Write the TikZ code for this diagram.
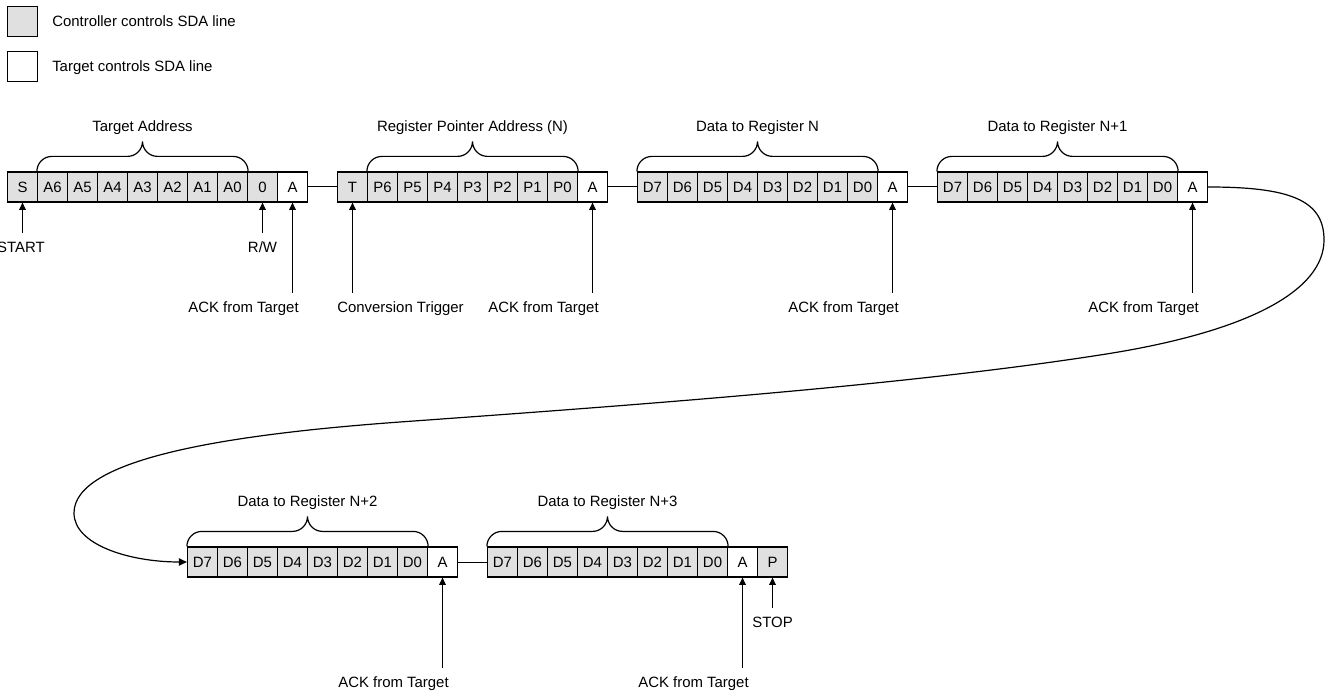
\documentclass[tikz,border=0pt]{standalone}
\usepackage{fontspec}
\setmainfont{Liberation Sans}
\usetikzlibrary{calc,arrows.meta}
\definecolor{ctrlgray}{RGB}{224,224,224}
\newcommand\sdabrace[4]{%
  \draw[bracestyle] (#1) .. controls +(0,-8.3) and +(-8.3,0) .. ($(#1)+(15,-15)$)
    -- ($(#1)!0.5!(#2)+(-15,-15)$) .. controls +(8.3,0) and +(0,8.3) .. ($(#1)!0.5!(#2)+(0,-30)$)
    .. controls +(0,8.3) and +(-8.3,0) .. ($(#1)!0.5!(#2)+(15,-15)$)
    -- ($(#2)+(-15,-15)$) .. controls +(8.3,0) and +(0,-8.3) .. (#2);
  \node[lbl] (#4) at ($(#1)!0.5!(#2)+(0,-40)$) {#3};
}
\begin{document}
\begin{tikzpicture}[x=0.75pt,y=-0.75pt,
  bitbox/.style={draw=black,line width=0.9pt,minimum width=22.5pt,minimum height=22.5pt,inner sep=0pt,text height=8pt,text depth=0pt,font=\fontsize{11.2}{13}\selectfont},
  lbl/.style={font=\fontsize{11.2}{13}\selectfont,inner sep=0pt,anchor=base},
  arr/.style={line width=0.75pt,-{Triangle[length=5.5pt,width=5pt]}},
  link/.style={line width=0.75pt},
  curvestyle/.style={line width=0.9pt,-{Triangle[length=6pt,width=5.5pt]}},
  bracestyle/.style={line width=0.9pt}]
\useasboundingbox (0,0) rectangle (1326,691);

% legend
\node[bitbox,fill=ctrlgray] (leg1) at (22.5,21.7) {};
\node[lbl,anchor=base west] (leg1t) at (52,27) {Controller controls SDA line};
\node[bitbox,fill=white] (leg2) at (22.5,66.7) {};
\node[lbl,anchor=base west] (leg2t) at (52,72) {Target controls SDA line};

% row 1
\foreach \lab/\fc [count=\i from 0] in {S/ctrlgray,A6/ctrlgray,A5/ctrlgray,A4/ctrlgray,A3/ctrlgray,A2/ctrlgray,A1/ctrlgray,A0/ctrlgray,0/ctrlgray,A/white}
  \node[bitbox,fill=\fc] (g1b\i) at ({22.5+30*\i},187) {\lab};
\foreach \lab/\fc [count=\i from 0] in {T/ctrlgray,P6/ctrlgray,P5/ctrlgray,P4/ctrlgray,P3/ctrlgray,P2/ctrlgray,P1/ctrlgray,P0/ctrlgray,A/white}
  \node[bitbox,fill=\fc] (g2b\i) at ({352.5+30*\i},187) {\lab};
\foreach \lab/\fc [count=\i from 0] in {D7/ctrlgray,D6/ctrlgray,D5/ctrlgray,D4/ctrlgray,D3/ctrlgray,D2/ctrlgray,D1/ctrlgray,D0/ctrlgray,A/white}
  \node[bitbox,fill=\fc] (g3b\i) at ({652.5+30*\i},187) {\lab};
\foreach \lab/\fc [count=\i from 0] in {D7/ctrlgray,D6/ctrlgray,D5/ctrlgray,D4/ctrlgray,D3/ctrlgray,D2/ctrlgray,D1/ctrlgray,D0/ctrlgray,A/white}
  \node[bitbox,fill=\fc] (g4b\i) at ({952.5+30*\i},187) {\lab};

% row 2
\foreach \lab/\fc [count=\i from 0] in {D7/ctrlgray,D6/ctrlgray,D5/ctrlgray,D4/ctrlgray,D3/ctrlgray,D2/ctrlgray,D1/ctrlgray,D0/ctrlgray,A/white}
  \node[bitbox,fill=\fc] (g5b\i) at ({202.5+30*\i},562) {\lab};
\foreach \lab/\fc [count=\i from 0] in {D7/ctrlgray,D6/ctrlgray,D5/ctrlgray,D4/ctrlgray,D3/ctrlgray,D2/ctrlgray,D1/ctrlgray,D0/ctrlgray,A/white,P/ctrlgray}
  \node[bitbox,fill=\fc] (g6b\i) at ({502.5+30*\i},562) {\lab};

% links between groups
\draw[link] (g1b9.east) -- (g2b0.west);
\draw[link] (g2b8.east) -- (g3b0.west);
\draw[link] (g3b8.east) -- (g4b0.west);
\draw[link] (g5b8.east) -- (g6b0.west);

% braces
\sdabrace{g1b1.north west}{g1b7.north east}{Target Address}{br1}
\sdabrace{g2b1.north west}{g2b7.north east}{Register Pointer Address (N)}{br2}
\sdabrace{g3b0.north west}{g3b7.north east}{Data to Register N}{br3}
\sdabrace{g4b0.north west}{g4b7.north east}{Data to Register N+1}{br4}
\sdabrace{g5b0.north west}{g5b7.north east}{Data to Register N+2}{br5}
\sdabrace{g6b0.north west}{g6b7.north east}{Data to Register N+3}{br6}

% pointer arrows row 1
\coordinate (tS) at ($(g1b0.south)+(0,30)$);
\draw[arr] (tS) -- (g1b0.south);
\node[lbl] (lS) at ($(tS)+(-1.5,20)$) {START};
\coordinate (tRW) at ($(g1b8.south)+(0,30)$);
\draw[arr] (tRW) -- (g1b8.south);
\node[lbl] (lRW) at ($(tRW)+(0,20)$) {R/W};
\coordinate (tA1) at ($(g1b9.south)+(0,90)$);
\draw[arr] (tA1) -- (g1b9.south);
\node[lbl] (lA1) at ($(tA1)+(-49,20)$) {ACK from Target};
\coordinate (tT) at ($(g2b0.south)+(0,90)$);
\draw[arr] (tT) -- (g2b0.south);
\node[lbl] (lT) at ($(tT)+(48,20)$) {Conversion Trigger};
\coordinate (tA2) at ($(g2b8.south)+(0,90)$);
\draw[arr] (tA2) -- (g2b8.south);
\node[lbl] (lA2) at ($(tA2)+(-49,20)$) {ACK from Target};
\coordinate (tA3) at ($(g3b8.south)+(0,90)$);
\draw[arr] (tA3) -- (g3b8.south);
\node[lbl] (lA3) at ($(tA3)+(-49,20)$) {ACK from Target};
\coordinate (tA4) at ($(g4b8.south)+(0,90)$);
\draw[arr] (tA4) -- (g4b8.south);
\node[lbl] (lA4) at ($(tA4)+(-49,20)$) {ACK from Target};

% pointer arrows row 2
\coordinate (tA5) at ($(g5b8.south)+(0,90)$);
\draw[arr] (tA5) -- (g5b8.south);
\node[lbl] (lA5) at ($(tA5)+(-49,20)$) {ACK from Target};
\coordinate (tA6) at ($(g6b8.south)+(0,90)$);
\draw[arr] (tA6) -- (g6b8.south);
\node[lbl] (lA6) at ($(tA6)+(-49,20)$) {ACK from Target};
\coordinate (tP) at ($(g6b9.south)+(0,30)$);
\draw[arr] (tP) -- (g6b9.south);
\node[lbl] (lP) at ($(tP)+(0,20)$) {STOP};

% continuation curve
\draw[curvestyle] (g4b8.east) .. controls (1290,187) and (1324,200) .. (1324,240)
  .. controls (1324,290) and (1250,332) .. (1100,355)
  .. controls (900,386) and (630,405.4) .. (400,422)
  .. controls (220,435) and (74,460) .. (74,513)
  .. controls (74,545) and (130,562) .. (g5b0.west);
\end{tikzpicture}
\end{document}
